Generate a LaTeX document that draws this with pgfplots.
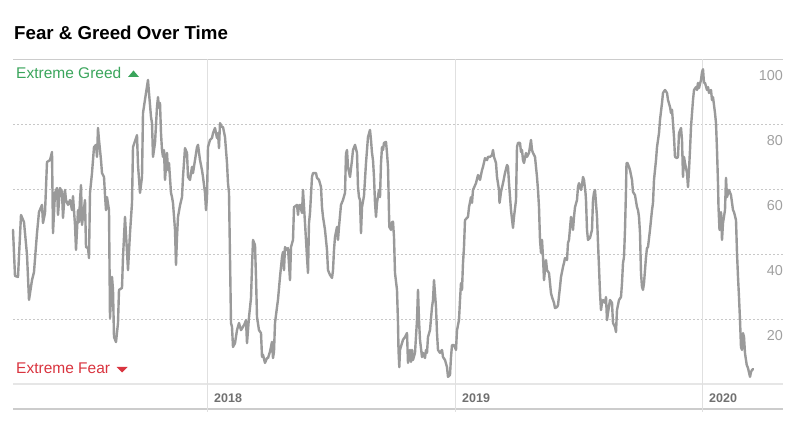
\documentclass[border=0pt]{standalone}
\usepackage{pgfplots}
\pgfplotsset{compat=1.18}
\usepackage{fontspec}
\setmainfont{Liberation Sans}
\definecolor{linegray}{HTML}{9A9A9A}
\definecolor{gridc}{HTML}{C8C8C8}
\definecolor{topc}{HTML}{CCCCCC}
\definecolor{basec}{HTML}{E6E6E6}
\definecolor{yearc}{HTML}{E0E0E0}
\definecolor{ticktext}{HTML}{A0A0A0}
\definecolor{yeartext}{HTML}{707070}
\definecolor{greed}{HTML}{3BA55C}
\definecolor{fear}{HTML}{D9343F}

% time index (pixel-linear time scale: 207 = Jan 2018, 455 = Jan 2019, 702 = Jan 2020), index value
\pgfplotstableread{
t v
13 47.5
15 33.3
18 33.0
21 52.1
24 49.9
27 39.8
29 25.9
32 32.0
34 34.5
37 46.5
39 53.0
42 55.2
43 49.6
45 52.7
47 68.4
50 69.0
52 71.5
53 46.5
55 58.9
57 60.4
58 52.1
60 60.4
62 59.2
63 51.2
65 59.8
66 56.7
68 55.2
70 56.7
72 53.6
73 57.9
75 49.0
76 41.3
78 53.6
79 49.9
80 56.7
81 61.3
82 49.0
85 56.7
86 42.2
88 41.9
89 38.8
90 58.9
92 65.0
94 73.0
96 73.7
97 70.0
98 78.9
99 75.2
101 69.0
102 65.0
104 63.8
105 58.2
106 53.6
107 57.6
109 53.6
110 20.3
112 33.0
113 29.0
114 14.5
116 12.9
118 18.8
119 29.0
122 29.6
123 39.1
125 51.5
127 40.7
128 35.1
130 46.5
132 55.8
133 73.0
137 76.7
138 67.5
140 58.9
142 63.8
143 83.5
146 89.7
148 93.7
149 89.7
151 82.3
152 80.4
153 70.0
155 74.3
157 85.4
158 88.4
159 85.1
160 86.6
161 77.3
162 72.1
163 70.0
164 72.1
165 62.9
167 71.2
168 65.9
169 68.1
171 58.9
172 57.6
173 55.8
175 47.5
176 36.7
177 45.3
178 51.5
180 55.0
182 57.6
183 63.8
185 72.7
187 71.2
188 63.8
190 62.9
192 66.9
193 65.0
195 69.0
197 73.0
198 73.7
200 69.0
202 65.9
203 63.8
205 58.9
206 53.6
207 57.6
208 73.0
210 75.2
212 75.8
213 77.3
215 78.9
217 75.8
218 77.3
219 72.7
220 80.4
222 79.2
223 79.2
225 76.1
227 68.1
228 61.9
229 58.9
230 39.1
231 18.8
232 17.6
233 11.4
235 12.6
237 16.6
239 18.8
241 16.6
243 17.6
245 18.8
246 19.7
247 12.6
249 20.6
251 26.5
252 36.1
253 44.4
255 42.8
256 33.0
257 20.6
259 16.6
261 15.7
262 8.4
263 9.0
265 6.5
267 8.0
268 8.0
270 10.0
272 13.0
273 8.0
274 10.0
275 18.8
277 23.7
278 26.0
280 33.0
282 39.1
283 40.7
284 35.1
285 42.2
287 41.3
288 41.9
290 32.0
291 42.2
293 44.4
294 54.5
297 55.2
298 52.1
299 55.0
300 55.2
302 52.7
303 59.8
305 49.6
307 39.1
308 34.2
309 49.6
310 52.7
312 63.8
313 65.0
316 65.0
317 63.5
319 62.9
321 60.7
322 54.5
323 51.5
325 47.5
327 41.3
328 35.1
330 33.6
332 32.7
333 35.0
334 41.3
335 45.3
337 48.4
338 44.4
339 48.4
341 55.2
343 56.7
345 58.9
346 71.0
347 72.1
348 66.9
350 63.8
352 69.0
353 72.1
355 73.7
357 71.2
358 60.7
359 57.6
360 56.7
361 46.5
362 54.5
364 58.0
366 68.1
368 76.1
370 78.3
371 75.2
372 71.2
373 69.0
374 63.8
375 55.8
376 51.5
377 55.8
379 59.8
380 57.6
381 68.1
382 73.0
383 72.1
384 74.3
386 74.6
387 71.2
388 66.9
388.5 59.8
389.3 48.4
391 47.5
392 49.9
393 50.0
394 45.3
395 34.2
397 29.0
398 18.8
398.5 10.5
399.3 5.2
400 10.5
402 12.6
403 13.6
405 14.5
407 15.7
408 6.5
409 8.3
410 10.5
411 6.8
412 10.5
413 7.4
415 9.6
417 19.7
418 29.0
419 19.7
420 13.6
422 8.3
423 9.6
425 8.0
426 10.5
427 9.6
428 14.5
430 16.6
432 23.7
433 25.9
434 32.0
436 23.7
437 15.7
438 10.5
440 9.6
442 10.5
443 8.3
445 7.4
447 5.2
448 2.2
450 2.8
451 8.3
452 12.0
454 12.0
456 10.5
457 16.6
459 19.7
460 25.9
461 31.1
462 29.0
463 37.3
464 42.2
465 50.5
467 51.2
468 51.5
469 54.5
471 57.6
472 55.8
473 59.8
476 61.9
478 64.4
480 62.9
482 65.9
483 66.9
485 69.6
487 69.0
488 70.0
490 70.0
492 70.5
493 72.1
494 70.0
496 68.1
497 63.8
499 59.8
499.5 55.8
500 56.7
501 59.2
503 61.9
505 65.0
507 67.5
508 66.9
509 61.9
511 53.6
513 48.1
514 51.5
516 56.7
517 73.0
518 74.3
520 74.3
521 71.5
522 72.1
523 69.0
524 68.1
526 71.2
527 70.0
529 71.2
531 75.2
532 72.1
533 71.2
535 70.0
537 63.8
538 59.8
539 54.5
540 44.4
541 40.4
542 44.4
543 39.1
544 32.0
546 38.2
547 35.1
549 34.2
551 28.0
552 26.8
554 25.0
555 23.4
557 23.7
558 24.3
560 29.9
561 33.0
563 36.1
564 37.3
565 38.8
567 38.2
568 43.5
569 44.4
571 51.5
572 50.5
573 47.5
574 51.5
575 54.5
577 56.7
578 60.7
579 61.9
581 59.8
582 61.3
583 63.8
584 62.9
585.5 58.9
586 56.7
587 47.5
588 44.4
590 45.0
592 47.5
593 56.7
594 59.0
595 59.8
597 51.5
598 43.5
599 36.1
600 28.0
601 22.8
602 25.0
603 25.9
605 25.0
606 26.8
607 19.7
608 21.9
610 25.9
612 25.0
613 18.8
615 17.6
616 16.0
617 22.8
619 25.9
621 26.8
622 31.1
623 37.3
624 39.1
625 47.5
626 59.8
626.5 68.1
627.5 68.1
629 66.9
630 65.9
632 62.9
633 59.2
635 58.2
637 54.5
638 53.6
639 51.5
640 46.5
641 34.2
642 29.9
643 29.0
644 31.1
646 39.1
647 41.9
648 42.2
650 47.5
652 53.6
653 55.8
654 62.9
656 69.0
657 73.0
659 77.3
660 81.4
662 86.6
663 89.7
665 90.6
667 89.7
668 87.5
670 85.4
671 83.5
672 84.5
673 80.4
674 76.1
675 70.0
677 69.6
678 70.0
679 77.3
681 78.9
682 75.2
683 63.8
684 70.0
685 68.1
687 65.0
688 60.7
689 65.9
690 72.1
691 79.2
693 87.5
694 90.6
696 91.5
697 90.6
698 92.8
699 91.2
701 93.7
702 96.1
703 97.0
704 92.8
705 92.8
707 90.6
708 91.5
709 89.7
711 90.6
712 87.5
713 88.4
715 83.5
716 80.4
717 72.1
718 61.9
718.5 54.5
719.5 47.5
721 53.0
722 44.4
723 49.6
725 53.6
726 63.5
727 57.6
729 59.8
731 58.2
733 53.6
734 53.0
736 50.5
737 40.4
738 33.0
739 26.8
740 19.7
741 11.4
742 10.5
743 15.7
744 14.5
745 9.5
746.7 5.9
748 4.9
750 2.2
751 3.7
752 4.3
753 4.6
}\fgdata

\begin{document}
\begin{tikzpicture}[x=1pt,y=1pt]
\useasboundingbox (0,0) rectangle (804,426);
\begin{axis}[
  at={(13pt,42pt)}, anchor=south west,
  scale only axis, width=770pt, height=324.5pt,
  xmin=13, xmax=783, ymin=0, ymax=100,
  axis line style={draw=none},
  major tick length=0pt,
  xtick={207,455,702}, xticklabels={2018,2019,2020},
  ytick={20,40,60,80,100},
  yticklabel pos=right,
  ymajorgrids,
  y grid style={gridc, line width=0.8pt, dash pattern=on 2pt off 2pt},
  /pgf/number format/assume math mode=true,
  xticklabel style={anchor=base west, xshift=3.7pt, yshift=-19pt,
    font=\fontsize{12.5}{14}\selectfont\bfseries, text=yeartext, inner sep=3.33pt},
  yticklabel style={anchor=base east, xshift=3.3pt, yshift=-21pt,
    font=\fontsize{14.4}{16}\selectfont, text=ticktext, inner sep=3.33pt},
  clip=false,
]
% frame lines
\draw[topc, line width=1.3pt] (axis cs:13,100) -- (axis cs:783,100);
\draw[basec, line width=1.5pt] (axis cs:13,0) -- (axis cs:783,0);
\draw[topc, line width=2.4pt] ([yshift=-25pt]axis cs:13,0) -- ([yshift=-25pt]axis cs:783,0);
\foreach \yr in {207,455,702} {
  \edef\temp{\noexpand\draw[yearc, line width=1pt] (axis cs:\yr,100) -- ([yshift=-28pt]axis cs:\yr,0);}
  \temp
}
\addplot[linegray, line width=2.4pt, line join=round, line cap=round, mark=none] table[x=t, y=v] {\fgdata};
\end{axis}
\node[anchor=base west, inner sep=0pt, font=\fontsize{18.7}{21}\selectfont\bfseries] at (14,386) {Fear \& Greed Over Time};
\node[anchor=base west, inner sep=0pt, text=greed, font=\fontsize{15.5}{17}\selectfont] at (16,347) {Extreme Greed};
\fill[greed] (128,349) -- (139,349) -- (133.5,355.5) -- cycle;
\node[anchor=base west, inner sep=0pt, text=fear, font=\fontsize{15.5}{17}\selectfont] at (16,52) {Extreme Fear};
\fill[fear] (116.5,59) -- (127.5,59) -- (122,53.5) -- cycle;
\end{tikzpicture}
\end{document}
